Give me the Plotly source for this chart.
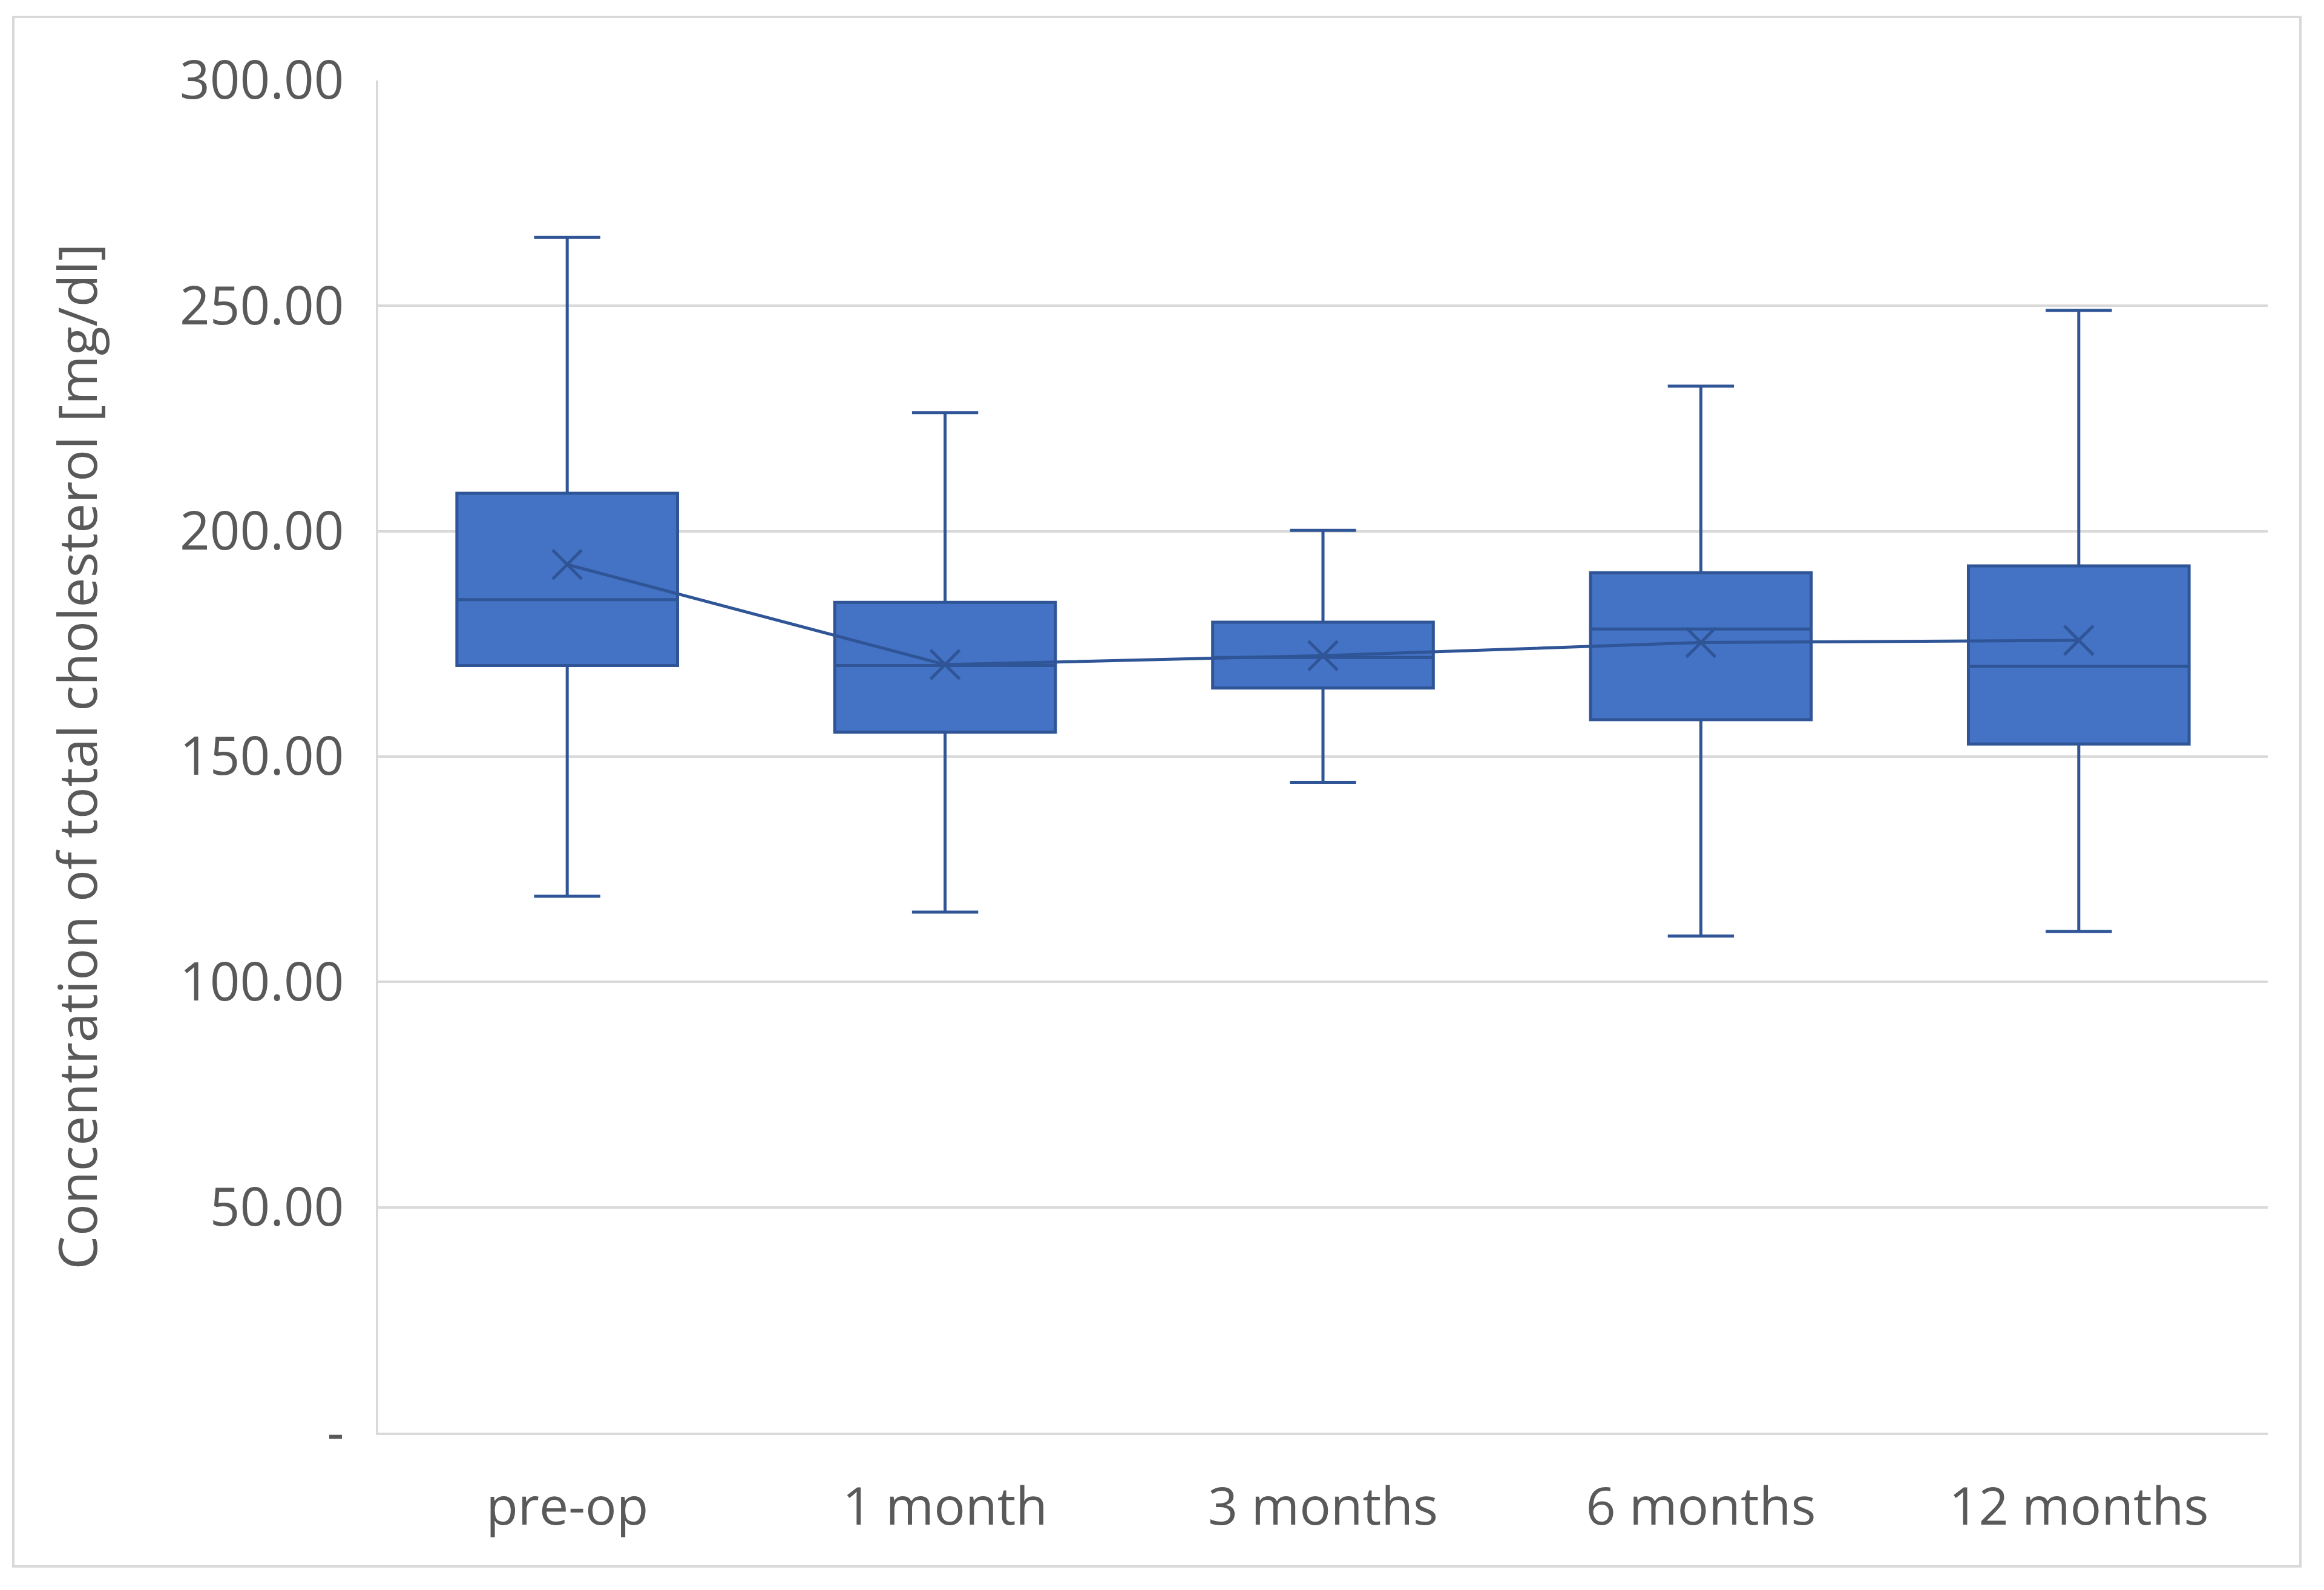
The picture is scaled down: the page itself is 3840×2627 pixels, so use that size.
import plotly.graph_objects as go

categories = ["pre-op", "1 month", "3 months", "6 months", "12 months"]
lower_whisker = [119.0, 115.5, 144.3, 110.2, 111.2]
q1_values = [170.2, 155.4, 165.2, 158.2, 152.8]
median_values = [184.8, 170.2, 172.0, 178.3, 170.0]
q3_values = [208.4, 184.2, 179.8, 190.8, 192.3]
upper_whisker = [265.2, 226.3, 200.2, 232.2, 249.0]
mean_values = [192.6, 170.4, 172.4, 175.3, 175.8]

y_tick_vals = [0, 50, 100, 150, 200, 250, 300]
y_tick_text = ["-", "50.00", "100.00", "150.00", "200.00", "250.00", "300.00"]

FILL = "#4472C4"
EDGE = "#2F5597"
TEXT = "#595959"
GRID = "#D9D9D9"
FONT = "Open Sans"

# page offset (browser body margin) compensation
OFF = 8
L, R, T, B = 625 - OFF, 93 + OFF, 133 - OFF, 260 + OFF
PW = 3840 - L - R
PH = 2627 - T - B

fig = go.Figure()
fig.add_trace(go.Box(
    x=categories,
    q1=q1_values,
    median=median_values,
    q3=q3_values,
    lowerfence=lower_whisker,
    upperfence=upper_whisker,
    fillcolor=FILL,
    line=dict(color=EDGE, width=5),
    width=0.584,
    whiskerwidth=0.3,
    boxpoints=False,
    showlegend=False,
    hoverinfo="skip",
))
fig.add_trace(go.Scatter(
    x=categories,
    y=mean_values,
    mode="lines+markers",
    line=dict(color=EDGE, width=5),
    marker=dict(symbol="x-thin", size=48, line=dict(color=EDGE, width=5)),
    showlegend=False,
    hoverinfo="skip",
))

fig.update_layout(
    width=3840,
    height=2627,
    margin=dict(l=L, r=R, t=T, b=B),
    paper_bgcolor="white",
    plot_bgcolor="white",
    font=dict(family=FONT, size=86, color=TEXT),
    xaxis=dict(
        type="category",
        range=[-0.5, 4.5],
        showgrid=False,
        showline=True,
        linecolor=GRID,
        linewidth=4,
        ticks="",
        ticklabelstandoff=45,
        tickfont=dict(family=FONT, size=86, color=TEXT),
        zeroline=False,
    ),
    yaxis=dict(
        range=[0, 300],
        tickvals=y_tick_vals,
        ticktext=y_tick_text,
        showgrid=True,
        gridcolor=GRID,
        gridwidth=4,
        showline=True,
        linecolor=GRID,
        linewidth=4,
        zeroline=False,
        ticks="",
        ticklabelstandoff=35,
        tickfont=dict(family=FONT, size=87, color=TEXT),
        title=dict(
            text="Concentration of total cholesterol [mg/dl]",
            font=dict(family=FONT, size=88, color=TEXT),
            standoff=108,
        ),
    ),
    shapes=[dict(
        type="rect",
        xref="paper", yref="paper",
        x0=(22 - OFF - L) / PW,
        x1=(3801 - OFF - L) / PW,
        y0=-(2588 - OFF - (T + PH)) / PH,
        y1=1 + (T - (28 - OFF)) / PH,
        line=dict(color=GRID, width=4),
        fillcolor="rgba(0,0,0,0)",
        layer="below",
    )],
)

fig.write_html("out.html")
